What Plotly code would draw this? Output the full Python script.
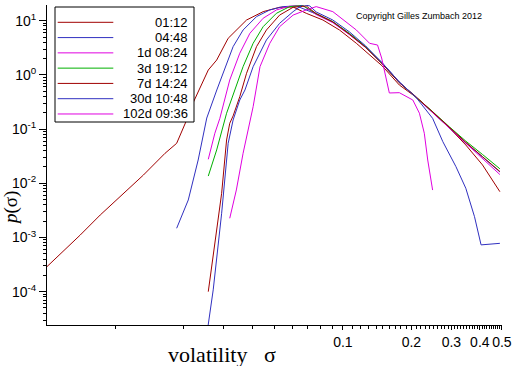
import plotly.graph_objects as go

# ---------------- data ----------------
labels = ["01:12", "04:48", "1d 08:24", "3d 19:12", "7d 14:24", "30d 10:48", "102d 09:36"]
colors = ["#a00000", "#3030c0", "#e000e0", "#00b000", "#a00000", "#3030c0", "#e000e0"]

sigma_0112 = [0.0050, 0.0070, 0.00857, 0.01067, 0.01327, 0.01652, 0.01858, 0.02056, 0.02193, 0.02559,
              0.02786, 0.0313, 0.0377, 0.0446, 0.0527, 0.0604, 0.0690, 0.0817, 0.0966, 0.1146,
              0.149, 0.177, 0.209, 0.248, 0.294, 0.347, 0.411, 0.49]
p_0112 = [2.9e-4, 1.11e-3, 2.6e-3, 6.1e-3, 0.0142, 0.0358, 0.0547, 0.147, 0.303, 1.23,
          1.88, 4.74, 10.3, 14.7, 17.7, 17.9, 13.7, 10.3, 6.74, 3.83,
          1.46, 0.652, 0.392, 0.207, 0.105, 0.0509, 0.0218, 0.0070]

sigma_0448 = [0.01858, 0.0209, 0.0231, 0.0252, 0.0279, 0.0298, 0.0329, 0.0364, 0.0417, 0.0477,
              0.0546, 0.0625, 0.0763, 0.0903, 0.107, 0.126, 0.149, 0.177, 0.209, 0.248,
              0.294, 0.347, 0.411, 0.49]
p_0448 = [0.00148, 0.00492, 0.0269, 0.160, 0.527, 1.07, 3.32, 6.74, 11.9, 15.8,
          18.2, 18.7, 13.3, 9.46, 5.69, 3.27, 1.66, 0.74, 0.392, 0.198,
          0.105, 0.0554, 0.0306, 0.0162]

sigma_1d = [0.02559, 0.02735, 0.02877, 0.0318, 0.0352, 0.0390, 0.0446, 0.0510, 0.0583, 0.0665,
            0.0763, 0.0903, 0.107, 0.126, 0.149, 0.177, 0.209, 0.248, 0.294, 0.347, 0.411, 0.49]
p_1d = [0.0277, 0.0838, 0.158, 0.805, 2.51, 5.86, 11.1, 15.8, 18.5, 19.1,
        13.0, 9.2, 5.5, 3.2, 1.6, 0.72, 0.39, 0.20, 0.104, 0.056, 0.029, 0.0145]

sigma_3d = [0.02559, 0.02786, 0.0308, 0.0335, 0.0364, 0.0403, 0.0446, 0.0510, 0.0583, 0.0665,
            0.0763, 0.0903, 0.107, 0.126, 0.149, 0.177, 0.209, 0.248, 0.294, 0.347, 0.411, 0.49]
p_3d = [0.0136, 0.0412, 0.196, 0.527, 1.42, 3.83, 7.76, 13.7, 18.2, 19.1,
        13.5, 9.6, 5.8, 3.3, 1.6, 0.72, 0.40, 0.21, 0.11, 0.06, 0.034, 0.0185]

sigma_7d = [0.02559, 0.02735, 0.0293, 0.0308, 0.0318, 0.0329, 0.0352, 0.0377, 0.0417, 0.0461,
            0.0527, 0.0604, 0.0690, 0.0763, 0.0903, 0.107, 0.126, 0.149, 0.177, 0.209,
            0.248, 0.294, 0.347, 0.411, 0.49]
p_7d = [1.0e-4, 7.8e-4, 0.00655, 0.063, 0.128, 0.175, 0.396, 1.07, 3.32, 6.74,
        12.7, 17.7, 18.7, 13.5, 9.5, 5.6, 3.2, 1.6, 0.72, 0.40,
        0.205, 0.107, 0.057, 0.031, 0.0165]

sigma_30d = [0.0252, 0.0269, 0.0293, 0.0313, 0.0329, 0.0352, 0.0371, 0.0403, 0.0461, 0.0527,
             0.0604, 0.0667, 0.0715, 0.0763, 0.0903, 0.107, 0.126, 0.149, 0.177, 0.209,
             0.248, 0.275, 0.314, 0.347, 0.379, 0.405, 0.49]
p_30d = [1.59e-5, 1.08e-4, 0.0028, 0.0547, 0.147, 0.344, 0.527, 1.42, 4.41, 8.96,
         14.7, 19.9, 18.7, 14.5, 10.3, 6.19, 3.42, 1.66, 0.74, 0.392,
         0.158, 0.0586, 0.0203, 0.0081, 0.00242, 7.3e-4, 7.8e-4]

sigma_102d = [0.0318, 0.0340, 0.0364, 0.0390, 0.0403, 0.0432, 0.0477, 0.0527, 0.0604, 0.0690,
              0.0763, 0.0903, 0.1146, 0.131, 0.142, 0.148, 0.160, 0.177, 0.203, 0.217,
              0.228, 0.236, 0.248]
p_102d = [0.00226, 0.00753, 0.0358, 0.147, 0.259, 1.42, 3.83, 7.76, 12.7, 15.8,
          18.2, 14.7, 6.74, 3.83, 3.56, 2.05, 0.464, 0.47, 0.344, 0.196,
          0.0838, 0.0269, 0.0075]

series_x = [sigma_0112, sigma_0448, sigma_1d, sigma_3d, sigma_7d, sigma_30d, sigma_102d]
series_y = [p_0112, p_0448, p_1d, p_3d, p_7d, p_30d, p_102d]

x_tick_vals = [0.1, 0.2, 0.3, 0.4, 0.5]
x_tick_text = ["0.1", "0.2", "0.3", "0.4", "0.5"]
y_tick_vals = [1e-4, 1e-3, 1e-2, 1e-1, 1, 10]
y_tick_text = ["10<sup>-4</sup>", "10<sup>-3</sup>", "10<sup>-2</sup>",
               "10<sup>-1</sup>", "10<sup>0</sup>", "10<sup>1</sup>"]

# ---------------- figure ----------------
W, H = 512, 366
PL, PR, PT, PB = 47, 502, 5, 325


def fx(px):
    return (px - PL) / (PR - PL)


def fy(py):
    return (PB - py) / (PB - PT)


fig = go.Figure()
for xs, ys, name, col in zip(series_x, series_y, labels, colors):
    fig.add_trace(go.Scatter(x=xs, y=ys, mode="lines", name=name,
                             line=dict(color=col, width=1), showlegend=False))

minor_x = [k / 100 for k in range(1, 10)] + [k / 100 for k in range(11, 50) if k % 10 != 0]
minor_y = [m * 10 ** e for e in range(-5, 2) for m in range(2, 10)]

fig.update_layout(
    width=W, height=H, autosize=False,
    margin=dict(l=PL, r=W - PR, t=PT, b=H - PB, autoexpand=False),
    paper_bgcolor="white", plot_bgcolor="white",
    font=dict(family="Liberation Sans, Arial, sans-serif", size=14, color="black"),
    xaxis=dict(type="log", range=[-2.30103, -0.3005], showgrid=False, zeroline=False,
               automargin=False,
               showline=True, linecolor="black", linewidth=1,
               tickmode="array", tickvals=x_tick_vals, ticktext=x_tick_text, tickangle=0,
               ticks="outside", ticklen=4, tickcolor="black", tickfont=dict(size=14),
               minor=dict(tickvals=minor_x, ticks="outside", ticklen=3, tickcolor="black",
                          showgrid=False)),
    yaxis=dict(type="log", range=[-4.615, 1.29], showgrid=False, zeroline=False,
               automargin=False,
               showline=True, linecolor="black", linewidth=1,
               tickmode="array", tickvals=y_tick_vals, ticktext=y_tick_text,
               ticks="outside", ticklen=7, tickcolor="black", tickfont=dict(size=14),
               minor=dict(tickvals=minor_y, ticks="outside", ticklen=3, tickcolor="black",
                          showgrid=False)),
)

# axis titles
fig.add_annotation(xref="paper", yref="paper", x=fx(222), y=fy(354), showarrow=False,
                   text="volatility&nbsp;&nbsp;&nbsp;σ", xanchor="center", yanchor="middle",
                   font=dict(family="Liberation Serif, Times New Roman, serif", size=22))
fig.add_annotation(xref="paper", yref="paper", x=fx(11), y=fy(208), showarrow=False,
                   text="<i>p</i>(σ)", textangle=-90, xanchor="center", yanchor="middle",
                   font=dict(family="Liberation Serif, Times New Roman, serif", size=19))

# copyright
fig.add_annotation(xref="paper", yref="paper", x=fx(419), y=fy(15.5), showarrow=False,
                   text="Copyright Gilles Zumbach 2012", xanchor="center", yanchor="middle",
                   font=dict(size=9))

# legend (drawn manually: right-aligned labels in a box)
fig.add_shape(type="rect", xref="paper", yref="paper", x0=fx(55), x1=fx(194), y0=fy(122), y1=fy(7),
              line=dict(color="black", width=1), fillcolor="white", layer="above")
row0, drow = 22.3, 15.28
for i, (name, col) in enumerate(zip(labels, colors)):
    ry = row0 + i * drow
    fig.add_shape(type="line", xref="paper", yref="paper", x0=fx(57.7), x1=fx(113.3),
                  y0=fy(ry), y1=fy(ry), line=dict(color=col, width=1), layer="above")
    fig.add_annotation(xref="paper", yref="paper", x=fx(190), y=fy(ry), showarrow=False,
                       text=name, xanchor="right", yanchor="middle", font=dict(size=13))

fig.write_html("out.html", config={"displayModeBar": False},
               post_script="document.body.style.margin='0';document.body.style.overflow='hidden';")
